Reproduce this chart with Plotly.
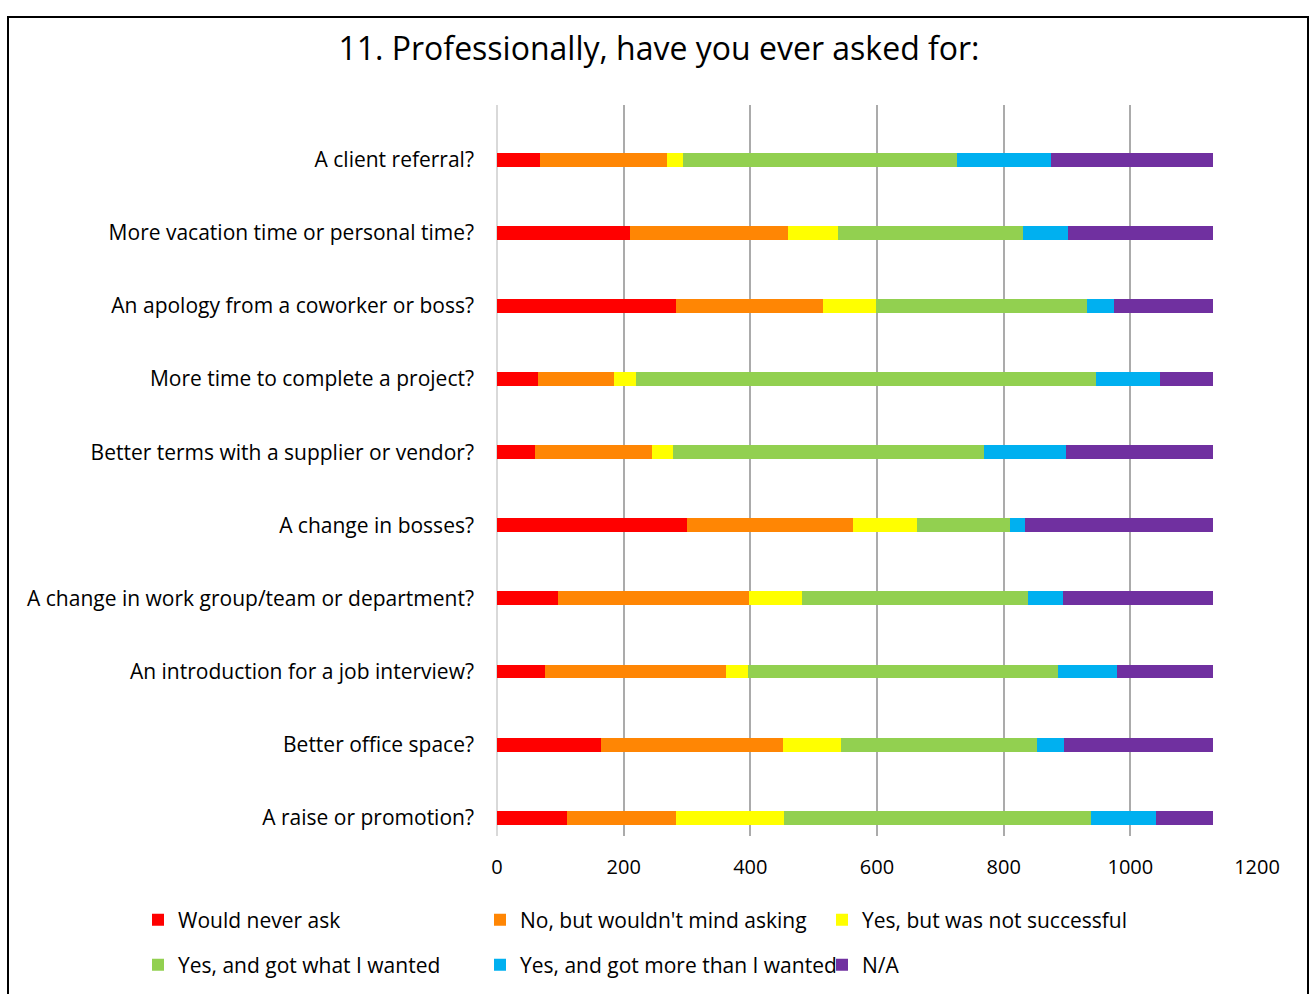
import plotly.graph_objects as go

# Survey question items, listed top to bottom
questions = [
    "A client referral?",
    "More vacation time or personal time?",
    "An apology from a coworker or boss?",
    "More time to complete a project?",
    "Better terms with a supplier or vendor?",
    "A change in bosses?",
    "A change in work group/team or department?",
    "An introduction for a job interview?",
    "Better office space?",
    "A raise or promotion?",
]

# Response counts per answer, in the same order as the questions
would_never_ask = [68, 210, 283, 64, 60, 300, 96, 76, 164, 110]
no_but_wouldnt_mind = [200, 249, 232, 120, 185, 262, 302, 285, 288, 172]
yes_not_successful = [26, 80, 84, 35, 33, 101, 83, 36, 91, 171]
yes_got_wanted = [432, 291, 333, 727, 491, 147, 357, 488, 310, 485]
yes_got_more = [149, 72, 42, 101, 129, 23, 55, 94, 42, 102]
not_applicable = [256, 228, 157, 83, 232, 297, 237, 151, 235, 91]

series = [
    ("Would never ask", would_never_ask, "#FF0000", "legend"),
    ("No, but wouldn't mind asking", no_but_wouldnt_mind, "#FF8604", "legend"),
    ("Yes, but was not successful", yes_not_successful, "#FFFF00", "legend"),
    ("Yes, and got what I wanted", yes_got_wanted, "#92D050", "legend2"),
    ("Yes, and got more than I wanted", yes_got_more, "#00B0F0", "legend2"),
    ("N/A", not_applicable, "#7030A0", "legend2"),
]

x_ticks = [0, 200, 400, 600, 800, 1000, 1200]

FONT = "Open Sans"
W, H = 1312, 994
L, R, T, B = 497, 55, 105, 158
PW, PH = W - L - R, H - T - B


def px_x(px):
    return (px - L) / PW


def px_y(py):
    return (H - B - py) / PH


fig = go.Figure()
for name, vals, color, leg in series:
    fig.add_trace(go.Bar(
        y=questions, x=vals, name=name, orientation="h",
        marker=dict(color=color, line=dict(width=0)),
        width=0.19, legend=leg,
    ))

legend_common = dict(
    orientation="h", xanchor="left", yanchor="middle", traceorder="normal",
    font=dict(family=FONT, size=21, color="#000000"),
    entrywidth=297, entrywidthmode="pixels",
    bgcolor="rgba(0,0,0,0)", itemclick=False, itemdoubleclick=False,
)

fig.update_layout(
    width=W, height=H,
    margin=dict(l=L, r=R, t=T, b=B, pad=0, autoexpand=False),
    paper_bgcolor="#FFFFFF", plot_bgcolor="#FFFFFF",
    barmode="stack",
    showlegend=True,
    font=dict(family=FONT, size=20, color="#000000"),
    title=dict(
        text="11. Professionally, have you ever asked for:",
        font=dict(family=FONT, size=32, color="#000000"),
        x=659 / W, xref="container", xanchor="center",
        y=1 - 49 / H, yref="container", yanchor="middle",
    ),
    xaxis=dict(
        range=[0, 1200], tickvals=x_ticks, ticktext=[str(v) for v in x_ticks],
        showgrid=True, gridcolor="#ABABAB", gridwidth=2,
        zeroline=True, zerolinecolor="#D9D9D9", zerolinewidth=2,
        showline=False, ticks="", ticklabelstandoff=17,
        tickfont=dict(family=FONT, size=20, color="#000000"),
        fixedrange=True,
    ),
    yaxis=dict(
        type="category", categoryorder="array", categoryarray=questions,
        range=[9.25, -0.75], showgrid=False, zeroline=False,
        showline=False, ticks="", ticklabelstandoff=22,
        tickfont=dict(family=FONT, size=21, color="#000000"),
        fixedrange=True,
    ),
    legend=dict(x=px_x(138), y=px_y(920), **legend_common),
    legend2=dict(x=px_x(138), y=px_y(965), **legend_common),
    shapes=[
        dict(
            type="rect", xref="paper", yref="paper",
            x0=px_x(8), x1=px_x(1308), y0=px_y(1010), y1=px_y(17),
            line=dict(color="#000000", width=2), fillcolor="rgba(0,0,0,0)",
            layer="below",
        )
    ],
)

fig.write_html("out.html")
